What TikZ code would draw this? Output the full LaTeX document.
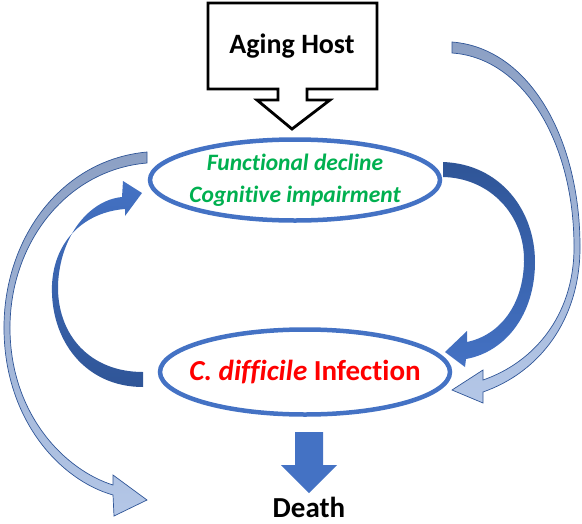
\documentclass[tikz,border=0pt]{standalone}
\usepackage{fontspec}
\setmainfont{Carlito}[Ligatures=NoCommon]
\usetikzlibrary{positioning, arrows.meta, shapes.geometric}

\definecolor{ringblue}{RGB}{68,114,196}
\definecolor{deepblue}{RGB}{47,85,151}
\definecolor{paleblue}{RGB}{180,199,231}
\definecolor{greyblue}{RGB}{140,160,196}
\definecolor{declinegreen}{RGB}{0,176,80}

\begin{document}
\begin{tikzpicture}[x=1pt, y=-1pt,
    ringnode/.style={ellipse, draw=ringblue, line width=4.5pt, fill=white, minimum width=290pt, inner sep=0pt, align=center},
    palearrow/.style={draw=deepblue, line width=0.7pt, top color=greyblue, bottom color=paleblue},
    upribbon/.style={top color=ringblue, bottom color=deepblue},
    downribbon/.style={top color=deepblue, bottom color=ringblue},
    bigtext/.style={font=\fontsize{#1}{#1}\selectfont\bfseries}
]
    \useasboundingbox (0,0) rectangle (582,523);

    % === Nodes ===
    \node[bigtext=28] (host) at (292,46) {Aging Host};
    \node[ringnode, minimum height=81pt, inner xsep=-5pt, text=declinegreen,
          font=\fontsize{23.5}{32}\selectfont\bfseries\itshape] (decline) at (295,180)
        {Functional decline\\Cognitive impairment};
    \node[ringnode, minimum height=85pt, inner xsep=-14pt, text=red, bigtext=29] (cdi) at (305,372)
        {\textit{C. difficile} Infection};
    \node[bigtext=29, anchor=base, inner sep=1pt] (death) at (309,517) {Death};

    % === Aging host callout ===
    \begin{scope}[shift={(host.center)}]
        \draw[line width=2.8pt, line join=miter] (-84,-43) -- (85,-43) -- (85,43) -- (15,43) -- (15,54)
            -- (38,54) -- (0,83) -- (-35,54) -- (-14,54) -- (-14,43) -- (-84,43) -- cycle;
    \end{scope}

    % === Outer pale arrows ===
    % functional decline -> death
    \shade[palearrow] (147,152) .. controls (60,160) and (3,240) .. (4,330)
        .. controls (5,420) and (60,480) .. (113,495) -- (114,516) -- (147,500) -- (113,475) -- (113,485)
        .. controls (65,470) and (11,415) .. (10,330) .. controls (9,245) and (65,170) .. (147,163) -- cycle;
    % aging host -> infection
    \shade[palearrow] (452,42) .. controls (530,48) and (581,140) .. (580,250)
        .. controls (579,320) and (540,372) .. (483,392) -- (483,403) -- (452,390) -- (483,370) -- (483,380)
        .. controls (535,362) and (573,315) .. (574,250) .. controls (575,145) and (525,58) .. (452,53) -- cycle;

    % === Inner loop arrows ===
    % decline -> infection
    \shade[downribbon] (443,162) .. controls (500,164) and (535,210) .. (535,262)
        .. controls (535,315) and (505,352) .. (466,359) -- (465,367) -- (445,352) -- (467,331) -- (467,342)
        .. controls (500,335) and (523,305) .. (524,262) .. controls (525,215) and (490,178) .. (443,177) -- cycle;
    % infection -> decline
    \shade[upribbon] (143,387) .. controls (85,387) and (50,340) .. (52,285)
        .. controls (54,240) and (85,212) .. (125,209) -- (125,216) -- (142,193) -- (123,181) -- (122,197)
        .. controls (90,200) and (60,235) .. (58,285) .. controls (57,335) and (90,372) .. (143,372) -- cycle;

    % === Infection -> death ===
    \fill[ringblue] (295,432) -- (323,432) -- (323,465) -- (337,465) -- (309,493) -- (281,465) -- (295,465) -- cycle;

\end{tikzpicture}
\end{document}
